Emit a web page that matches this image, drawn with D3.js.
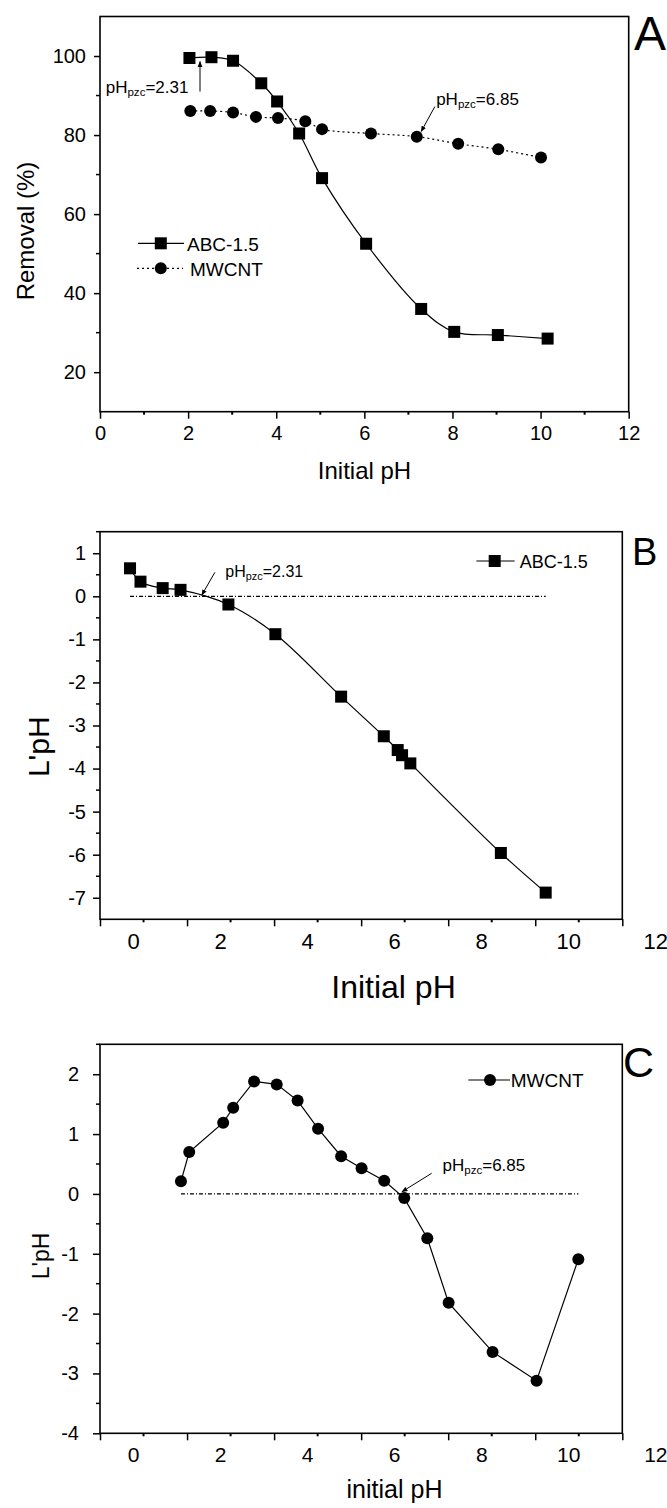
<!DOCTYPE html>
<html>
<head>
<meta charset="utf-8">
<script src="https://cdn.jsdelivr.net/npm/d3@7"></script>
<style>
  body { margin: 0; background: #fff; }
  text { font-family: "Liberation Sans", Arial, sans-serif; fill: #000; }
</style>
</head>
<body>
<div id="chart"></div>
<script>
// ---- panel A : removal vs initial pH
const phA_abc  = [2.03, 2.53, 3.02, 3.66, 4.02, 4.52, 5.04, 6.04, 7.29, 8.04, 9.03, 10.16];
const remA_abc = [99.5, 99.7, 98.8, 93.1, 88.5, 80.4, 69.1, 52.5, 36.0, 30.2, 29.4, 28.5];
const phA_mw   = [2.05, 2.50, 3.02, 3.54, 4.04, 4.66, 5.04, 6.15, 7.19, 8.13, 9.04, 10.01];
const remA_mw  = [86.1, 86.1, 85.7, 84.6, 84.3, 83.5, 81.5, 80.4, 79.6, 77.8, 76.4, 74.3];

// ---- panel B : L'pH of ABC-1.5
const phB  = [-0.31, -0.07, 0.44, 0.85, 1.95, 3.03, 4.54, 5.52, 5.84, 5.94, 6.13, 8.21, 9.24];
const lphB = [0.65, 0.34, 0.19, 0.15, -0.19, -0.88, -2.33, -3.25, -3.57, -3.69, -3.88, -5.96, -6.88];

// ---- panel C : L'pH of MWCNT
const phC  = [0.86, 1.05, 1.83, 2.06, 2.54, 3.06, 3.54, 4.01, 4.54, 5.01, 5.53, 5.99, 6.52, 7.01, 8.02, 9.03, 9.99];
const lphC = [0.21, 0.70, 1.19, 1.44, 1.88, 1.83, 1.56, 1.09, 0.63, 0.43, 0.22, -0.07, -0.74, -1.82, -2.64, -3.12, -1.09];

// tick labels
const xTicksA = [0, 2, 4, 6, 8, 10, 12];
const yTicksA = [20, 40, 60, 80, 100];
const xLabelsBC = [0, 2, 4, 6, 8, 10, 12];
const yTicksB = [-7, -6, -5, -4, -3, -2, -1, 0, 1];
const yTicksC = [-4, -3, -2, -1, 0, 1, 2];

const FONT = '"Liberation Sans", Arial, sans-serif';
const W = 667, H = 1508;
const plain = d => String(d);   // keeps "-7" with a plain hyphen

const svg = d3.select("#chart").append("svg")
  .attr("width", W).attr("height", H);
svg.append("rect").attr("width", W).attr("height", H).attr("fill", "#fff");

svg.append("defs").append("marker")
  .attr("id", "arrow")
  .attr("viewBox", "0 0 10 10")
  .attr("refX", 9).attr("refY", 5)
  .attr("markerWidth", 6).attr("markerHeight", 6)
  .attr("orient", "auto")
  .append("path").attr("d", "M0,1L10,5L0,9Z").attr("fill", "#000");

function frame(x, y) {
  const [x0, x1] = x.range(), [y0, y1] = y.range();
  svg.append("rect")
    .attr("x", x0).attr("y", y1)
    .attr("width", x1 - x0).attr("height", y0 - y1)
    .attr("fill", "none").attr("stroke", "#000").attr("stroke-width", 1.6);
}

function styleAxis(g, fs) {
  g.attr("font-family", FONT).attr("font-size", fs);
  g.select(".domain").remove();
  g.selectAll(".tick line").attr("stroke-width", 1.5);
}

function minorX(x, y, vals, len) {
  svg.append("g").selectAll("line").data(vals).enter().append("line")
    .attr("x1", d => x(d)).attr("x2", d => x(d))
    .attr("y1", y.range()[0]).attr("y2", y.range()[0] + len)
    .attr("stroke", "#000").attr("stroke-width", 2);
}

function minorY(x, y, vals, len) {
  svg.append("g").selectAll("line").data(vals).enter().append("line")
    .attr("x1", x.range()[0] - len).attr("x2", x.range()[0])
    .attr("y1", d => y(d)).attr("y2", d => y(d))
    .attr("stroke", "#000").attr("stroke-width", 1.5);
}

function squares(x, y, xs, ys) {
  svg.append("g").selectAll("rect").data(xs).enter().append("rect")
    .attr("x", (d, i) => x(d) - 6).attr("y", (d, i) => y(ys[i]) - 6)
    .attr("width", 12).attr("height", 12).attr("fill", "#000");
}

function dots(x, y, xs, ys) {
  svg.append("g").selectAll("circle").data(xs).enter().append("circle")
    .attr("cx", d => x(d)).attr("cy", (d, i) => y(ys[i]))
    .attr("r", 6).attr("fill", "#000");
}

function curve(x, y, xs, ys, dash, smooth) {
  const line = d3.line()
    .x(d => x(d[0])).y(d => y(d[1]))
    .curve(smooth ? d3.curveCatmullRom.alpha(0.5) : d3.curveLinear);
  svg.append("path")
    .datum(xs.map((d, i) => [d, ys[i]]))
    .attr("d", line)
    .attr("fill", "none").attr("stroke", "#000").attr("stroke-width", 1.2)
    .attr("stroke-dasharray", dash);
}

function pzc(x, y, px, py, val, fs) {
  const t = svg.append("text").attr("x", x(px)).attr("y", y(py)).attr("font-size", fs);
  t.append("tspan").text("pH");
  t.append("tspan").attr("font-size", fs * 0.68).attr("dy", 3).text("pzc");
  t.append("tspan").attr("dy", -3).text("=" + val);
}

function arrow(x, y, p0, p1) {
  svg.append("line")
    .attr("x1", x(p0[0])).attr("y1", y(p0[1]))
    .attr("x2", x(p1[0])).attr("y2", y(p1[1]))
    .attr("stroke", "#000").attr("stroke-width", 1)
    .attr("marker-end", "url(#arrow)");
}

function label(txt, x, y, fs, rot) {
  svg.append("text")
    .attr("transform", "translate(" + x + "," + y + ")" + (rot ? " rotate(-90)" : ""))
    .attr("text-anchor", rot === undefined ? "start" : "middle")
    .attr("font-size", fs)
    .text(txt);
}

// =============== A ===============
const xA = d3.scaleLinear().domain([0, 12]).range([100, 628.7]);
const yA = d3.scaleLinear().domain([10, 110]).range([411.7, 16.5]);

frame(xA, yA);
svg.append("g").attr("transform", "translate(0," + yA.range()[0] + ")")
  .call(d3.axisBottom(xA).tickValues(xTicksA).tickFormat(plain).tickSize(7).tickPadding(7))
  .call(g => styleAxis(g, 20));
svg.append("g").attr("transform", "translate(" + xA.range()[0] + ",0)")
  .call(d3.axisLeft(yA).tickValues(yTicksA).tickFormat(plain).tickSize(6).tickPadding(8))
  .call(g => styleAxis(g, 20));
minorX(xA, yA, [1, 3, 5, 7, 9, 11], 3);
minorY(xA, yA, [30, 50, 70, 90], 4);

curve(xA, yA, phA_abc, remA_abc, null, true);
curve(xA, yA, phA_mw, remA_mw, "2,3", true);
squares(xA, yA, phA_abc, remA_abc);
dots(xA, yA, phA_mw, remA_mw);

pzc(xA, yA, 0.13, 90.6, "2.31", 17);
arrow(xA, yA, [2.27, 91.0], [2.27, 98.6]);
pzc(xA, yA, 7.63, 87.6, "6.85", 17);
arrow(xA, yA, [7.6, 87.2], [7.29, 80.9]);

// legend A
svg.append("line").attr("x1", 138).attr("x2", 184).attr("y1", 243.3).attr("y2", 243.3)
  .attr("stroke", "#000").attr("stroke-width", 1.2);
svg.append("rect").attr("x", 154.8).attr("y", 237.3).attr("width", 12).attr("height", 12);
label("ABC-1.5", 187, 250.5, 19);
svg.append("line").attr("x1", 137).attr("x2", 183).attr("y1", 268.3).attr("y2", 268.3)
  .attr("stroke", "#000").attr("stroke-width", 1.2).attr("stroke-dasharray", "2,3");
svg.append("circle").attr("cx", 160.8).attr("cy", 268.3).attr("r", 6);
label("MWCNT", 190, 275.5, 19);

label("Removal (%)", 34, 231, 24, true);
label("Initial pH", 364.5, 479, 24, false);
label("A", 634, 50, 48);

// =============== B ===============
const xB = d3.scaleLinear().domain([-1, 11]).range([100, 622.3]);
const yB = d3.scaleLinear().domain([-7.5, 1.5]).range([919.3, 531.7]);

frame(xB, yB);
svg.append("g").attr("transform", "translate(0," + yB.range()[0] + ")")
  .call(d3.axisBottom(xB).tickValues(d3.range(-1, 12, 2)).tickFormat(() => "").tickSize(7))
  .call(g => styleAxis(g, 20));
minorX(xB, yB, d3.range(0, 11, 2), 3);
svg.append("g").selectAll("text").data(xLabelsBC).enter().append("text")
  .attr("x", d => xB(d) - 10).attr("y", yB.range()[0] + 30)
  .attr("text-anchor", "middle").attr("font-size", 22)
  .text(d => d);
svg.append("g").attr("transform", "translate(" + xB.range()[0] + ",0)")
  .call(d3.axisLeft(yB).tickValues(yTicksB).tickFormat(plain).tickSize(7).tickPadding(7))
  .call(g => styleAxis(g, 20));
minorY(xB, yB, d3.range(-6.5, 1.6, 1), 4);

curve(xB, yB, [d3.min(phB), d3.max(phB)], [0, 0], "4,2,1,2", false);
curve(xB, yB, phB, lphB, null, true);
squares(xB, yB, phB, lphB);

pzc(xB, yB, 1.88, 0.455, "2.31", 16);
arrow(xB, yB, [1.64, 0.557], [1.34, 0.03]);

svg.append("line").attr("x1", 476.4).attr("x2", 514.7).attr("y1", 561).attr("y2", 561)
  .attr("stroke", "#000").attr("stroke-width", 1.2);
svg.append("rect").attr("x", 488.7).attr("y", 555).attr("width", 12).attr("height", 12);
label("ABC-1.5", 519.8, 567.5, 18);

label("L'pH", 49, 746.7, 30, true);
label("Initial pH", 393.5, 998, 32, false);
label("B", 632, 565, 38);

// =============== C ===============
const xC = d3.scaleLinear().domain([-1, 11]).range([100, 622.3]);
const yC = d3.scaleLinear().domain([-4, 2.5]).range([1433.3, 1044.3]);

frame(xC, yC);
svg.append("g").attr("transform", "translate(0," + yC.range()[0] + ")")
  .call(d3.axisBottom(xC).tickValues(d3.range(-1, 12, 2)).tickFormat(() => "").tickSize(7))
  .call(g => styleAxis(g, 20));
minorX(xC, yC, d3.range(0, 11, 2), 3);
svg.append("g").selectAll("text").data(xLabelsBC).enter().append("text")
  .attr("x", d => xC(d) - 10).attr("y", yC.range()[0] + 28.5)
  .attr("text-anchor", "middle").attr("font-size", 21)
  .text(d => d);
svg.append("g").attr("transform", "translate(" + xC.range()[0] + ",0)")
  .call(d3.axisLeft(yC).tickValues(yTicksC).tickFormat(plain).tickSize(7).tickPadding(14))
  .call(g => styleAxis(g, 20));
minorY(xC, yC, d3.range(-3.5, 2.6, 1), 4);

curve(xC, yC, [d3.min(phC), d3.max(phC)], [0, 0], "4,2,1,2", false);
curve(xC, yC, phC, lphC, null, false);
dots(xC, yC, phC, lphC);

pzc(xC, yC, 6.87, 0.388, "6.85", 17);
arrow(xC, yC, [6.62, 0.345], [5.94, 0.037]);

svg.append("line").attr("x1", 468.3).attr("x2", 510).attr("y1", 1080).attr("y2", 1080)
  .attr("stroke", "#000").attr("stroke-width", 1.2);
svg.append("circle").attr("cx", 490).attr("cy", 1080).attr("r", 6);
label("MWCNT", 510.7, 1087, 19);

label("L'pH", 49, 1256, 23, true);
label("initial pH", 394.5, 1498, 25, false);
label("C", 623, 1077, 43);
</script>
</body>
</html>
